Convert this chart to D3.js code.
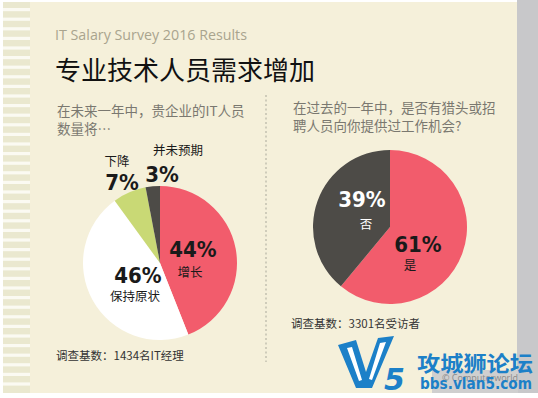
<!DOCTYPE html>
<html>
<head>
<meta charset="utf-8">
<script src="https://cdn.jsdelivr.net/npm/d3@7"></script>
<style>
html,body{margin:0;padding:0;background:#ffffff;}
svg{display:block;}
</style>
</head>
<body>
<svg id="chart" width="538" height="398"></svg>
<script>
// ---- data ----
const superTitle = "IT Salary Survey 2016 Results";
const mainTitle = "专业技术人员需求增加";
const leftQuestion = ["在未来一年中，贵企业的IT人员", "数量将…"];
const rightQuestion = ["在过去的一年中，是否有猎头或招", "聘人员向你提供过工作机会?"];
const leftCategories = ["增长", "保持原状", "下降", "并未预期"];
const leftValues = [44, 46, 7, 3];
const rightCategories = ["是", "否"];
const rightValues = [61, 39];
const leftBase = "调查基数：1434名IT经理";
const rightBase = "调查基数：3301名受访者";

const svg = d3.select("#chart");
const W = 538, H = 398;
const cjk = "'Noto Sans CJK SC','Noto Sans',sans-serif";
const cond = "'DejaVu Sans Condensed','DejaVu Sans',sans-serif";

// background
svg.append("rect").attr("x",0).attr("y",0).attr("width",W).attr("height",H).attr("fill","#ffffff");
// left stripes
svg.append("rect").attr("x",3).attr("y",2).attr("width",30).attr("height",391).attr("fill","#eae8cf");
d3.range(0, 40).forEach(i => {
  const y = 8 + i * 9.6;
  if (y < 392) svg.append("rect").attr("x",3).attr("y",y).attr("width",28).attr("height",3.2).attr("fill","#fbfaf2");
});
// panel
svg.append("rect").attr("x",30).attr("y",2).attr("width",488).attr("height",391).attr("fill","#f5f0da");
// right gray strip
svg.append("rect").attr("x",517).attr("y",0).attr("width",21).attr("height",393).attr("fill","#c8c8ca");

// divider dotted line
svg.append("line").attr("x1",266).attr("x2",266).attr("y1",95).attr("y2",362)
  .attr("stroke","#a9a89a").attr("stroke-width",1).attr("stroke-dasharray","2,2.5");

// titles
svg.append("text").attr("x",55).attr("y",40).text(superTitle)
  .attr("font-family","'Open Sans',sans-serif").attr("font-size",14.5).attr("fill","#a9a48e")
  .attr("textLength",192).attr("lengthAdjust","spacingAndGlyphs");
svg.append("text").attr("x",55).attr("y",80).text(mainTitle)
  .attr("font-family",cjk).attr("font-size",26).attr("fill","#111111");

function question(lines, x, y0) {
  lines.forEach((l, i) => {
    svg.append("text").attr("x",x).attr("y",y0 + i*18).text(l)
      .attr("font-family",cjk).attr("font-size",13.5).attr("fill","#7a7870");
  });
}
question(leftQuestion, 57, 116);
question(rightQuestion, 293, 113);

// pies
const pie = d3.pie().sort(null).value(d => d);
const leftColors = d3.scaleOrdinal().domain(leftCategories).range(["#f25c6c","#ffffff","#c9d975","#4d4b47"]);
const rightColors = d3.scaleOrdinal().domain(rightCategories).range(["#f25c6c","#4d4b47"]);

function drawPie(values, cats, color, cx, cy, r) {
  const arc = d3.arc().innerRadius(0).outerRadius(r);
  const g = svg.append("g").attr("transform",`translate(${cx},${cy})`);
  g.selectAll("path").data(pie(values)).join("path")
    .attr("d", arc).attr("fill", (d,i) => color(cats[i]));
}
const L = {cx:160, cy:263, r:77};
const R = {cx:390, cy:227, r:77};
drawPie(leftValues, leftCategories, leftColors, L.cx, L.cy, L.r);
drawPie(rightValues, rightCategories, rightColors, R.cx, R.cy, R.r);

// labels
function pct(x, y, v, fill) {
  svg.append("text").attr("x",x).attr("y",y).text(v + "%")
    .attr("font-family",cond).attr("font-weight","bold").attr("font-size",22)
    .attr("fill",fill).attr("text-anchor","middle");
}
function lab(x, y, t, fill) {
  svg.append("text").attr("x",x).attr("y",y).text(t)
    .attr("font-family",cjk).attr("font-size",12.5).attr("fill",fill).attr("text-anchor","middle");
}
// left pie labels
pct(193, 257, leftValues[0], "#1a1a1a"); lab(190, 277, leftCategories[0], "#1a1a1a");
pct(138, 283, leftValues[1], "#1a1a1a"); lab(135, 301, leftCategories[1], "#1a1a1a");
lab(117, 166, leftCategories[2], "#1a1a1a"); pct(122, 190, leftValues[2], "#1a1a1a");
lab(178, 155, leftCategories[3], "#1a1a1a"); pct(162, 182, leftValues[3], "#1a1a1a");
// right pie labels
pct(362, 207, rightValues[1], "#ffffff"); lab(366, 229, rightCategories[1], "#ffffff");
pct(418, 252, rightValues[0], "#1a1a1a"); lab(410, 270, rightCategories[0], "#1a1a1a");

// base notes
svg.append("text").attr("x",56).attr("y",360).text(leftBase)
  .attr("font-family",cjk).attr("font-size",11.5).attr("fill","#333333");
svg.append("text").attr("x",291).attr("y",328).text(rightBase)
  .attr("font-family",cjk).attr("font-size",11.5).attr("fill","#333333");

// watermark
svg.append("rect").attr("x",432).attr("y",370).attr("width",86).attr("height",23).attr("fill","#cfcfcf");
svg.append("text").attr("x",442).attr("y",381).text("© Computerworld")
  .attr("font-family","'Open Sans',sans-serif").attr("font-size",9).attr("fill","#8a8a8a");
const wm = svg.append("g");
wm.append("path").attr("d","M338,345 L356,340 L366,372 L378,338 L394,336 L372,388 L356,388 Z").attr("fill","#1c80c8");
wm.append("path").attr("d","M347,348 L352,347 L362,380 L359,381 Z M380,343 L386,342 L372,380 L369,379 Z").attr("fill","#ffffff");
wm.append("text").attr("x",384).attr("y",390).text("5")
  .attr("font-family","'DejaVu Sans',sans-serif").attr("font-weight","bold").attr("font-size",30)
  .attr("fill","#1c80c8").attr("font-style","italic");
wm.append("text").attr("x",417).attr("y",371).text("攻城狮论坛")
  .attr("font-family",cjk).attr("font-weight","bold").attr("font-size",21).attr("fill","#1c80c8")
  .attr("textLength",116).attr("lengthAdjust","spacingAndGlyphs");
wm.append("text").attr("x",420).attr("y",389).text("bbs.vlan5.com")
  .attr("font-family","'DejaVu Sans',sans-serif").attr("font-weight","bold").attr("font-size",16).attr("fill","#1c80c8")
  .attr("textLength",112).attr("lengthAdjust","spacingAndGlyphs");
</script>
</body>
</html>
